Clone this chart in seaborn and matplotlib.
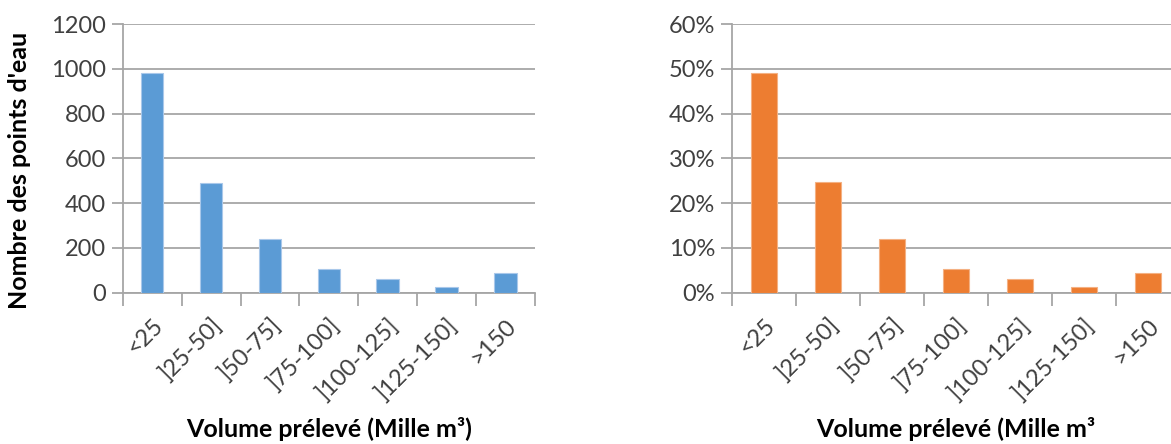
import matplotlib
matplotlib.use("Agg")
import matplotlib.pyplot as plt
from matplotlib.ticker import FixedLocator, PercentFormatter
import seaborn as sns
import pandas as pd

# Volume classes (thousand m3)
categories = ["<25", "]25-50]", "]50-75]", "]75-100]", "]100-125]", "]125-150]", ">150"]
# Number of water points per class
counts = [979, 489, 237, 106, 60, 25, 88]
# Share of water points per class (%)
shares = [49.0, 24.6, 11.9, 5.3, 3.0, 1.3, 4.4]

count_ticks = [0, 200, 400, 600, 800, 1000, 1200]
share_ticks = [0, 10, 20, 30, 40, 50, 60]

sns.set_theme(style="white")
plt.rcParams["font.family"] = ["Lato", "DejaVu Sans"]

BLUE = "#5B9BD5"
ORANGE = "#ED7D31"
GRID = "#A6A6A6"
TICKTXT = "#404040"

W, H = 1171, 444
fig = plt.figure(figsize=(W / 100, H / 100), dpi=100)

def px_axes(x0, x1, ytop, ybot):
    return fig.add_axes([x0 / W, 1 - ybot / H, (x1 - x0) / W, (ybot - ytop) / H])

ax1 = px_axes(122.7, 535.0, 24.0, 292.5)
ax2 = px_axes(731.7, 1179.7, 24.0, 292.5)

df1 = pd.DataFrame({"classe": categories, "valeur": counts})
df2 = pd.DataFrame({"classe": categories, "valeur": shares})

sns.barplot(data=df1, x="classe", y="valeur", ax=ax1, color=BLUE, width=0.385,
            saturation=1, edgecolor="#A9C8EA", linewidth=0.8, zorder=3)
sns.barplot(data=df2, x="classe", y="valeur", ax=ax2, color=ORANGE, width=0.40,
            saturation=1, edgecolor="#F4B183", linewidth=0.8, zorder=3)

def style(ax, yticks, fmt=None):
    n = len(categories)
    ax.set_xlim(-0.5, n - 0.5)
    ax.set_ylim(yticks[0], yticks[-1])
    ax.set_yticks(yticks)
    if fmt is not None:
        ax.yaxis.set_major_formatter(fmt)
    ax.yaxis.grid(True, color=GRID, linewidth=1.3, zorder=0)
    ax.set_axisbelow(True)
    # category boundaries carry the tick marks, centres carry the labels
    ax.xaxis.set_major_locator(FixedLocator([i - 0.5 for i in range(n + 1)]))
    ax.xaxis.set_minor_locator(FixedLocator(list(range(n))))
    ax.set_xticklabels([], minor=False)
    ax.set_xticklabels(categories, minor=True, rotation=45, ha="right",
                       rotation_mode="anchor", fontsize=17, color=TICKTXT)
    ax.tick_params(axis="x", which="major", direction="out", length=9,
                   width=1.3, color=GRID, bottom=True)
    ax.tick_params(axis="x", which="minor", length=0, pad=16)
    ax.tick_params(axis="y", direction="out", length=8, width=1.3, color=GRID,
                   left=True, labelsize=17, labelcolor=TICKTXT, pad=4)
    for s in ("top", "right"):
        ax.spines[s].set_visible(False)
    for s in ("left", "bottom"):
        ax.spines[s].set_color(GRID)
        ax.spines[s].set_linewidth(1.3)
    ax.set_xlabel("")
    ax.set_ylabel("")

style(ax1, count_ticks)
style(ax2, share_ticks, PercentFormatter(decimals=0))

fig.text(20 / W, 1 - 170 / H, "Nombre des points d'eau", rotation=90,
         ha="center", va="center", fontsize=18, fontweight="bold", color="black")
fig.text(328.9 / W, 1 - 429 / H, "Volume prélevé (Mille m³)",
         ha="center", va="center", fontsize=18, fontweight="bold", color="black")
fig.text(955.7 / W, 1 - 429 / H, "Volume prélevé (Mille m³",
         ha="center", va="center", fontsize=18, fontweight="bold", color="black")

fig.savefig("out.png", dpi=100, facecolor="white")
